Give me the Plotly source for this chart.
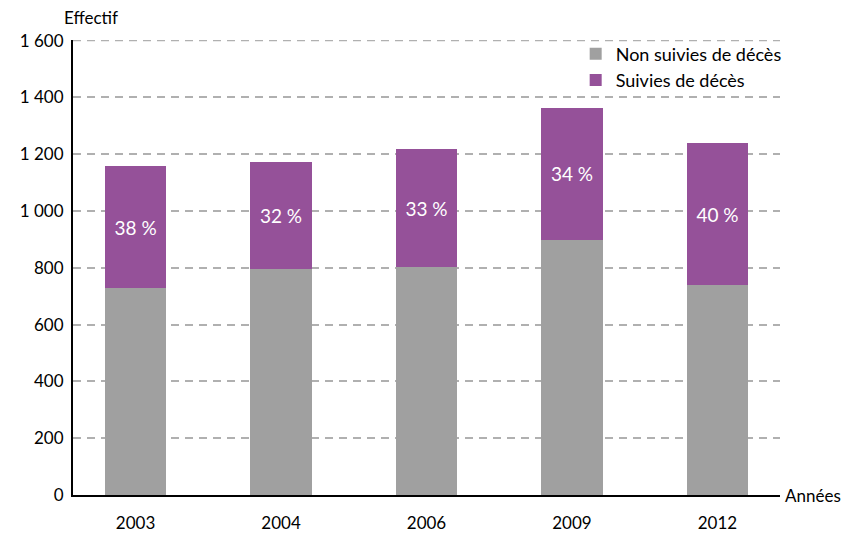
import plotly.graph_objects as go

years = ["2003", "2004", "2006", "2009", "2012"]
non_suivies = [728, 795, 802, 897, 738]
suivies = [429, 376, 415, 467, 500]
pct_labels = ["38 %", "32 %", "33 %", "34 %", "40 %"]
y_ticks = [0, 200, 400, 600, 800, 1000, 1200, 1400, 1600]
y_tick_labels = ["0", "200", "400", "600", "800", "1 000", "1 200", "1 400", "1 600"]

FONT = "Lato"
GRID = "#B0B0B0"
fig = go.Figure()
fig.add_trace(go.Bar(x=years, y=non_suivies, name="Non suivies de décès",
                     marker=dict(color="#A0A0A0", line=dict(width=0)), width=0.42))
fig.add_trace(go.Bar(x=years, y=suivies, name="Suivies de décès",
                     marker=dict(color="#955199", line=dict(width=0)), width=0.42,
                     text=pct_labels, textposition="inside", insidetextanchor="middle",
                     textfont=dict(color="white", size=19, family=FONT),
                     hoverinfo="skip"))

fig.add_shape(type="line", xref="paper", yref="y", x0=0, x1=1, y0=y_ticks[-1], y1=y_ticks[-1],
              line=dict(color=GRID, width=1.5, dash="8px,6px"), layer="below")

fig.update_layout(
    barmode="stack",
    width=841, height=525,
    margin=dict(l=65, r=69, t=32, b=38, autoexpand=False),
    paper_bgcolor="white", plot_bgcolor="white",
    font=dict(family=FONT, size=17, color="black"),
    showlegend=True,
    legend=dict(x=0.711, y=1.01, xanchor="left", yanchor="top", bgcolor="rgba(0,0,0,0)",
                traceorder="normal", font=dict(size=18), itemwidth=30,
                tracegroupgap=0),
    xaxis=dict(type="category", range=[-0.43, 4.43], showline=True, linecolor="black",
               linewidth=2, ticks="outside", ticklen=12, tickcolor="rgba(0,0,0,0)",
               showgrid=False, tickfont=dict(size=17)),
    yaxis=dict(range=[0, 1602], tickvals=y_ticks, ticktext=y_tick_labels,
               showline=True, linecolor="black", linewidth=2, ticks="outside", ticklen=4,
               tickcolor="rgba(0,0,0,0)",
               showgrid=True, gridcolor=GRID, griddash="8px,6px", gridwidth=1.5,
               zeroline=False, tickfont=dict(size=17)),
    annotations=[
        dict(text="Effectif", xref="paper", yref="paper", x=-0.016, y=1.0, yshift=10,
             xanchor="left", yanchor="bottom", showarrow=False, font=dict(size=17)),
        dict(text="Années", xref="paper", yref="paper", x=1.0, y=0, xshift=3,
             xanchor="left", yanchor="middle", showarrow=False, font=dict(size=17)),
    ],
)

fig.write_html("out.html")
